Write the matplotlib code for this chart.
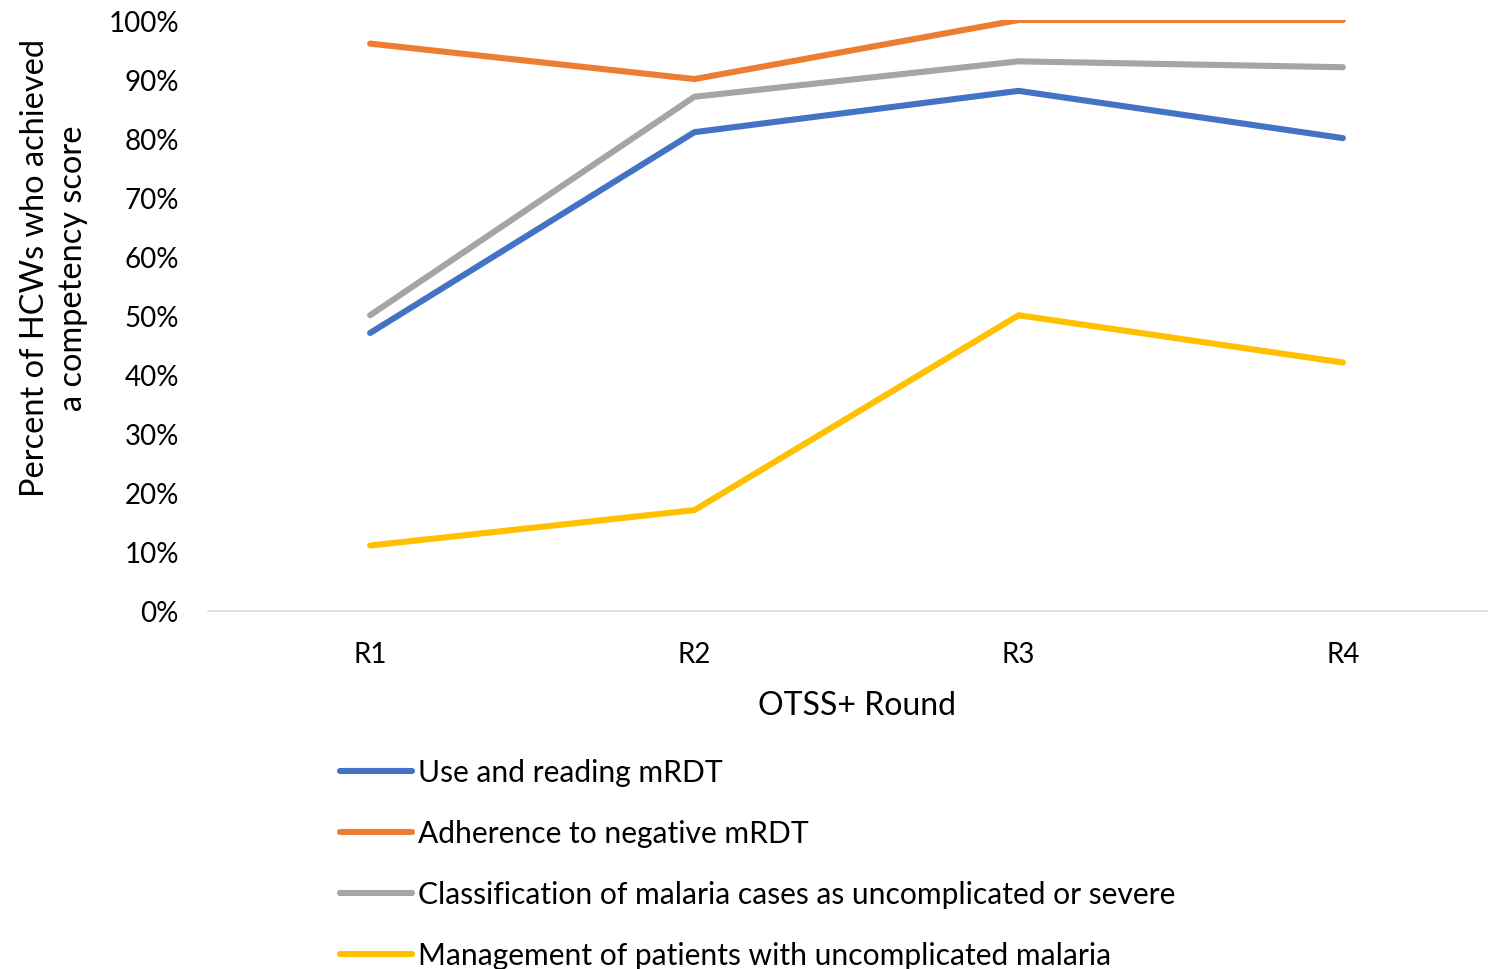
import matplotlib
matplotlib.use("Agg")
import matplotlib.pyplot as plt
from matplotlib.ticker import PercentFormatter

plt.rcParams['font.family'] = ['Lato', 'DejaVu Sans']

rounds = ["R1", "R2", "R3", "R4"]
series_names = [
    "Use and reading mRDT",
    "Adherence to negative mRDT",
    "Classification of malaria cases as uncomplicated or severe",
    "Management of patients with uncomplicated malaria",
]
use_reading = [47, 81, 88, 80]
adherence = [96, 90, 100, 100]
classification = [50, 87, 93, 92]
management = [11, 17, 50, 42]
colors = ["#4472C4", "#ED7D31", "#A5A5A5", "#FFC000"]
y_ticks = [0, 10, 20, 30, 40, 50, 60, 70, 80, 90, 100]

fig = plt.figure(figsize=(14.88, 9.70), dpi=100)
ax = fig.add_axes([208/1488, 1-611.5/970, (1505-208)/1488, (611.5-21)/970])

x = list(range(len(rounds)))
handles = []
for vals, name, c in zip([use_reading, adherence, classification, management], series_names, colors):
    h, = ax.plot(x, vals, color=c, lw=4.4, solid_capstyle='round', solid_joinstyle='round', label=name)
    handles.append(h)

ax.set_xlim(-0.5, 3.5)
ax.set_ylim(0, 100)
ax.set_yticks(y_ticks)
ax.yaxis.set_major_formatter(PercentFormatter(decimals=0))
ax.set_xticks(x)
ax.set_xticklabels(rounds)
for s in ['top', 'right', 'left']:
    ax.spines[s].set_visible(False)
ax.spines['bottom'].set_color('#D9D9D9')
ax.spines['bottom'].set_linewidth(1.2)
ax.tick_params(axis='both', length=0, labelsize=20, colors='black')
ax.tick_params(axis='y', pad=21)
ax.tick_params(axis='x', pad=22)

fig.text(857/1488, 1-706/970, "OTSS+ Round", ha='center', va='center', fontsize=23)
fig.text(54/1488, 1-268/970, "Percent of HCWs who achieved\na competency score", ha='center', va='center',
         rotation=90, fontsize=23.4, linespacing=1.3)

leg = fig.legend(handles=handles, loc='upper left', bbox_to_anchor=(340/1488, 1-759/970),
                 frameon=False, fontsize=21.6, handlelength=2.4, handletextpad=0.2,
                 labelspacing=1.1, borderaxespad=0, borderpad=0)
for l in leg.get_lines():
    l.set_linewidth(4.4)

fig.savefig("out.png", dpi=100)
